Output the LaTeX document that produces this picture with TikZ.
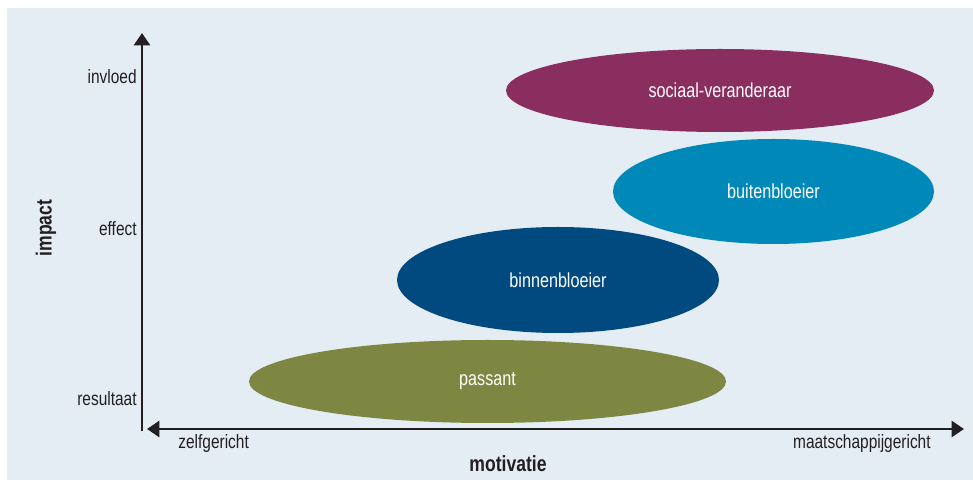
\documentclass[tikz,border=0pt]{standalone}
\usepackage{fontspec}
\setmainfont{Liberation Sans}[FakeStretch=0.8]
\usetikzlibrary{shapes.geometric,arrows.meta}
\definecolor{panel}{HTML}{E4ECF4}
\definecolor{ink}{HTML}{231F20}
\definecolor{plum}{HTML}{8A2D5F}
\definecolor{sky}{HTML}{0088B9}
\definecolor{navy}{HTML}{004A80}
\definecolor{olive}{HTML}{7E8742}
\tikzset{
  axis/.style={line width=1.7pt,draw=ink},
  axtip/.tip={Triangle[length=7pt,width=9pt]},
  lbl/.style={font=\fontsize{11}{13}\selectfont,text=ink,inner sep=0pt},
  title/.style={font=\fontsize{12.5}{14}\selectfont\bfseries,text=ink,inner sep=0pt},
  blob/.style={ellipse,inner sep=0pt,text=white,font=\fontsize{11.5}{13}\selectfont}
}
\begin{document}
\begin{tikzpicture}[x=0.02cm,y=-0.02cm]
  \fill[white] (0,0) rectangle (973,482);
  \fill[panel] (7,8) rectangle (973,480);
  % assen
  \coordinate (o) at (142,431);
  \coordinate (top) at (142,33);
  \coordinate (left) at (147,429);
  \coordinate (right) at (964,429);
  \draw[axis,-{axtip}] (o) -- (top);
  \draw[axis,{axtip}-{axtip}] (left) -- (right);
  % schaal
  \node[lbl,anchor=east] (invloed) at (137,77) {invloed};
  \node[lbl,anchor=east] (effect) at (137,229) {effect};
  \node[lbl,anchor=east] (resultaat) at (137,399) {resultaat};
  \node[lbl,anchor=west] (zelf) at (178,444) {zelfgericht};
  \node[lbl,anchor=east] (maatsch) at (931,444) {maatschappijgericht};
  \node[title] (motivatie) at (508,464) {motivatie};
  \node[title,rotate=90] (impact) at (46,228) {impact};
  % typen
  \node[blob,fill=olive,minimum width=477*0.02cm,minimum height=83*0.02cm] (passant) at (487.5,381.5) {passant};
  \node[blob,fill=navy,minimum width=322*0.02cm,minimum height=106*0.02cm] (binnen) at (558,280) {binnenbloeier};
  \node[blob,fill=sky,minimum width=321*0.02cm,minimum height=105*0.02cm] (buiten) at (773.5,191.5) {buitenbloeier};
  \node[blob,fill=plum,minimum width=428*0.02cm,minimum height=83*0.02cm] (sociaal) at (720,90.5) {sociaal-veranderaar};
\end{tikzpicture}
\end{document}
